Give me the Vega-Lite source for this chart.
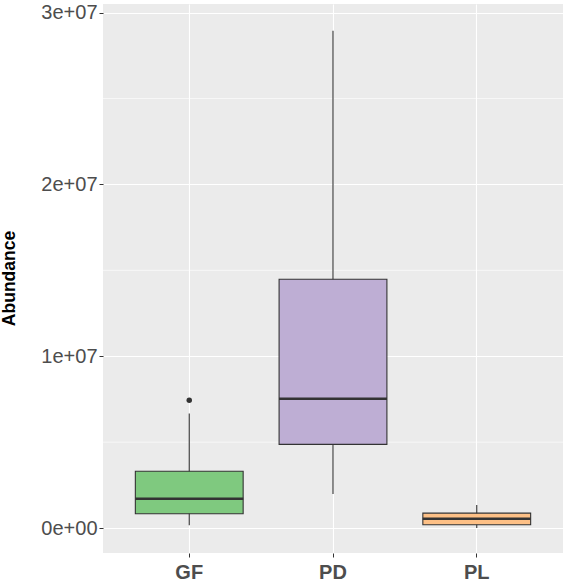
{
  "$schema": "https://vega.github.io/schema/vega-lite/v6.json",
  "autosize": "none",
  "width": 460,
  "height": 549,
  "padding": {"left": 103, "top": 4, "right": 4, "bottom": 30},
  "background": "white",
  "config": {
    "view": {"fill": "#EBEBEB", "stroke": null},
    "font": "Liberation Sans"
  },
  "datasets": {
    "boxes": [
      {"group": "GF", "lower": 170000, "q1": 830000, "median": 1700000, "q3": 3310000, "upper": 6670000},
      {"group": "PD", "lower": 1980000, "q1": 4870000, "median": 7520000, "q3": 14480000, "upper": 28950000},
      {"group": "PL", "lower": 0, "q1": 190000, "median": 540000, "q3": 870000, "upper": 1340000}
    ],
    "outliers": [
      {"group": "GF", "value": 7440000}
    ],
    "minor": [
      {"v": 5000000}, {"v": 15000000}, {"v": 25000000}
    ]
  },
  "layer": [
    {
      "data": {"name": "minor"},
      "mark": {"type": "rule", "color": "white", "strokeWidth": 0.6},
      "encoding": {
        "y": {
          "field": "v", "type": "quantitative",
          "scale": {"domain": [-1450000, 30500000], "nice": false, "zero": false},
          "axis": {
            "title": "Abundance",
            "values": [0, 10000000, 20000000, 30000000],
            "labelExpr": "datum.value == 0 ? '0e+00' : format(datum.value / 10000000, 'd') + 'e+07'",
            "grid": true, "gridColor": "white", "gridWidth": 1.1,
            "domain": false,
            "ticks": true, "tickColor": "#333333", "tickSize": 4, "tickWidth": 1,
            "labelFont": "Liberation Sans", "labelFontSize": 20, "labelColor": "#4D4D4D", "labelPadding": 2,
            "titleFont": "Liberation Sans", "titleFontSize": 17.5, "titleFontWeight": "bold", "titleColor": "black",
            "titleX": -94, "titleY": 274, "titleAngle": -90, "titleAlign": "center", "titleBaseline": "middle"
          }
        }
      }
    },
    {
      "data": {"name": "boxes"},
      "mark": {"type": "rule", "color": "#333333", "strokeWidth": 1.1},
      "encoding": {
        "x": {
          "field": "group", "type": "nominal",
          "scale": {"type": "band", "paddingInner": 0, "paddingOuter": 0.1},
          "axis": {
            "title": null,
            "bandPosition": 0.5,
            "grid": true, "gridColor": "white", "gridWidth": 1.1,
            "domain": false,
            "ticks": true, "tickColor": "#333333", "tickSize": 4, "tickWidth": 1,
            "labelAngle": 0,
            "labelFont": "Liberation Sans", "labelFontSize": 20, "labelFontWeight": "bold", "labelColor": "#4D4D4D",
            "labelPadding": 5
          }
        },
        "y": {"field": "lower", "type": "quantitative"},
        "y2": {"field": "upper"}
      }
    },
    {
      "data": {"name": "boxes"},
      "mark": {"type": "bar", "width": {"band": 0.75}, "stroke": "#333333", "strokeWidth": 1.1},
      "encoding": {
        "x": {"field": "group", "type": "nominal"},
        "y": {"field": "q1", "type": "quantitative"},
        "y2": {"field": "q3"},
        "color": {
          "field": "group", "type": "nominal",
          "scale": {"domain": ["GF", "PD", "PL"], "range": ["#7FC97F", "#BEAED4", "#FDC086"]},
          "legend": null
        }
      }
    },
    {
      "data": {"name": "boxes"},
      "mark": {"type": "tick", "color": "#333333", "thickness": 2.5, "size": 108, "opacity": 1},
      "encoding": {
        "x": {"field": "group", "type": "nominal"},
        "y": {"field": "median", "type": "quantitative"}
      }
    },
    {
      "data": {"name": "outliers"},
      "mark": {"type": "point", "filled": true, "color": "#333333", "size": 30, "opacity": 1},
      "encoding": {
        "x": {"field": "group", "type": "nominal"},
        "y": {"field": "value", "type": "quantitative"}
      }
    }
  ]
}
